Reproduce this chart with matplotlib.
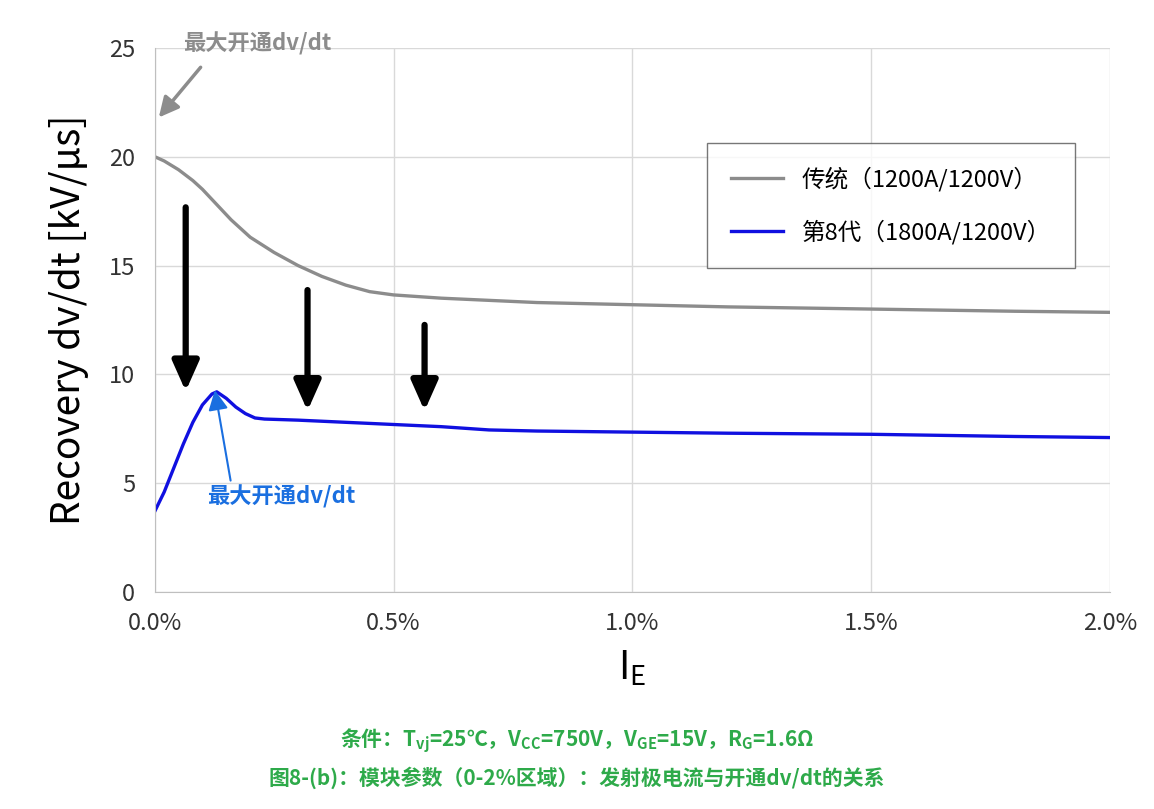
import numpy as np
import matplotlib.pyplot as plt

plt.rcParams['font.family'] = ['Noto Sans CJK SC', 'DejaVu Sans']

# values (x in %, y in kV/us)
ie_conv = [0.0, 0.02, 0.05, 0.08, 0.1, 0.13, 0.16, 0.2, 0.25, 0.3, 0.35, 0.4, 0.45, 0.5,
           0.6, 0.7, 0.8, 1.0, 1.2, 1.5, 1.8, 2.0]
dv_conv = [20.0, 19.8, 19.4, 18.9, 18.5, 17.8, 17.1, 16.3, 15.6, 15.0, 14.5, 14.1, 13.8, 13.65,
           13.5, 13.4, 13.3, 13.2, 13.1, 13.0, 12.9, 12.85]
ie_g8 = [0.0, 0.02, 0.04, 0.06, 0.08, 0.1, 0.12, 0.13, 0.15, 0.17, 0.19, 0.21, 0.23, 0.3,
         0.4, 0.5, 0.6, 0.7, 0.8, 1.0, 1.2, 1.5, 1.8, 2.0]
dv_g8 = [3.7, 4.6, 5.7, 6.8, 7.8, 8.6, 9.1, 9.2, 8.9, 8.5, 8.2, 8.0, 7.95, 7.9,
         7.8, 7.7, 7.6, 7.45, 7.4, 7.35, 7.3, 7.25, 7.15, 7.1]
arrow_x = [0.065, 0.32, 0.565]
arrow_top = [17.8, 14.0, 12.4]
arrow_bot = [9.1, 8.2, 8.2]

fig = plt.figure(figsize=(11.54, 8.09), dpi=100)
ax = fig.add_axes([0.134, 0.268, 0.828, 0.673])

ax.plot(ie_conv, dv_conv, color='#8c8c8c', lw=2.4, label='传统（1200A/1200V）')
ax.plot(ie_g8, dv_g8, color='#1010e0', lw=2.4, label='第8代（1800A/1200V）')

for x, t, b in zip(arrow_x, arrow_top, arrow_bot):
    ax.annotate('', xy=(x, b), xytext=(x, t),
                arrowprops=dict(arrowstyle='-|>,head_width=0.8,head_length=1.8', color='black', lw=4.5))

ax.annotate('', xy=(0.005, 21.7), xytext=(0.1, 24.2),
            arrowprops=dict(arrowstyle='-|>,head_width=0.6,head_length=1.2', color='#8c8c8c', lw=2.5))
ax.text(0.06, 25.2, '最大开通dv/dt', color='#8c8c8c', fontsize=16, fontweight='bold', va='center')
ax.annotate('', xy=(0.125, 9.4), xytext=(0.16, 5.0),
            arrowprops=dict(arrowstyle='-|>,head_width=0.6,head_length=1.2', color='#1a6fe0', lw=1.5))
ax.text(0.11, 4.4, '最大开通dv/dt', color='#1a6fe0', fontsize=16, fontweight='bold', va='center')

ax.set_xlim(0, 2.0)
ax.set_ylim(0, 25)
ax.set_xticks([0, 0.5, 1.0, 1.5, 2.0])
ax.set_xticklabels(['0.0%', '0.5%', '1.0%', '1.5%', '2.0%'])
ax.set_yticks([0, 5, 10, 15, 20, 25])
ax.tick_params(labelsize=17, length=0, pad=14, colors='#333333')
ax.grid(True, color='#d9d9d9', lw=1)
for s in ['top', 'right']:
    ax.spines[s].set_visible(False)
for s in ['left', 'bottom']:
    ax.spines[s].set_color('#bfbfbf')
ax.set_ylabel('Recovery dv/dt [kV/μs]', fontsize=28, labelpad=14)
ax.set_xlabel('$\\mathregular{I_E}$', fontsize=28, labelpad=10)

leg = ax.legend(loc='upper right', bbox_to_anchor=(0.963, 0.825), fontsize=17, frameon=True,
                fancybox=False, edgecolor='#555555', borderpad=1.0, labelspacing=1.2,
                handlelength=2.2, borderaxespad=0)

fig.text(0.5, 0.077, '条件：T$_{\\mathregular{vj}}$=25℃，V$_{\\mathregular{CC}}$=750V，V$_{\\mathregular{GE}}$=15V，R$_{\\mathregular{G}}$=1.6Ω',
         ha='center', color='#2eaa4a', fontsize=15, fontweight='bold')
fig.text(0.5, 0.03, '图8-(b)：模块参数（0-2%区域）：发射极电流与开通dv/dt的关系',
         ha='center', color='#2eaa4a', fontsize=15, fontweight='bold')

fig.savefig('out.png', dpi=100)
